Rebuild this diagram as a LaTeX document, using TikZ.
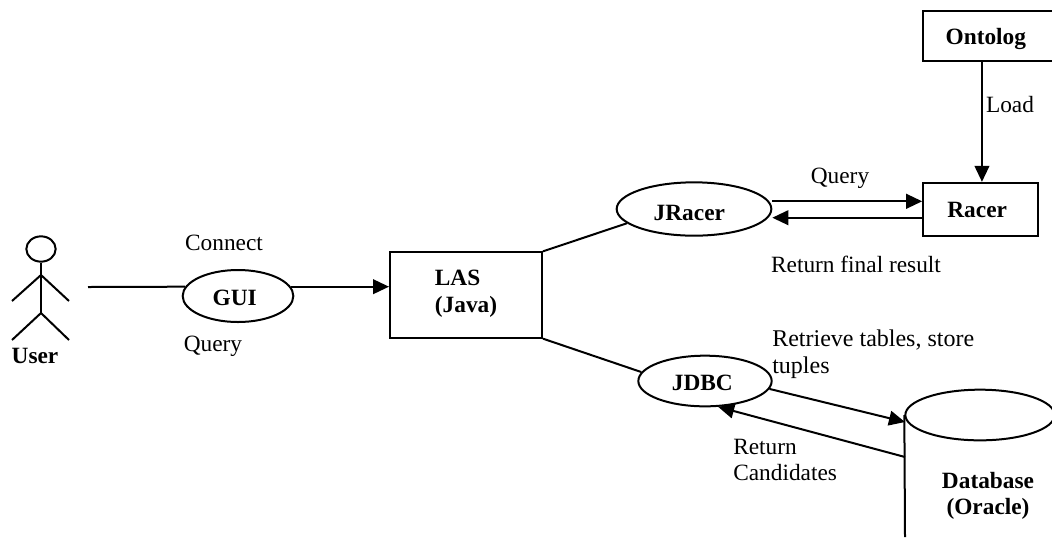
\documentclass[tikz,border=0pt]{standalone}
\usepackage{fontspec}
\setmainfont{Liberation Serif}
\usetikzlibrary{arrows.meta,shapes.geometric}
\newcommand{\txtsize}{\fontsize{17.5}{20}\selectfont}
\tikzset{
	base/.style={line width=1.5pt, color=black},
	oval/.style={base, draw, ellipse, inner sep=0pt, font=\txtsize\bfseries},
	block/.style={base, draw, rectangle, inner sep=0pt, font=\txtsize\bfseries, align=left},
	arr/.style={base, -{Triangle[length=12pt,width=11pt]}},
	lbl/.style={inner sep=0pt, align=left, font=\txtsize},
	strong/.style={inner sep=0pt, align=center, font=\txtsize\bfseries}
}

\begin{document}
\begin{tikzpicture}[x=0.75pt, y=-0.75pt]
		%%%%% START %%%%%
		\useasboundingbox (0, 0) rectangle (1052, 537);
		
		% user
		\node[base, draw, ellipse, minimum width=22pt, minimum height=19pt, inner sep=0pt] (head) at (41, 249) {};
		\coordinate (shoulder) at (41, 275);
		\coordinate (hip) at (41, 313);
		\draw[base] (head.south) -- (hip);
		\draw[base] (12, 301) -- (shoulder) -- (69, 301);
		\draw[base] (12, 340) -- (hip) -- (69, 340);
		\node[strong] (user) at (35, 356) {User};
		\coordinate (userend) at (88, 287);
		
		% nodes
		\node[oval, minimum width=83pt, minimum height=39pt, text height=15pt] (gui) at (238, 296) {\hspace*{-5pt}GUI};
		\node[block, minimum width=114pt, minimum height=64pt, text depth=6pt] (las) at (466, 295) {LAS\\(Java)};
		\node[oval, minimum width=116pt, minimum height=40pt, text height=18pt] (jracer) at (694, 209) {\hspace*{-7pt}JRacer};
		\node[oval, minimum width=100pt, minimum height=38pt, text height=15pt] (jdbc) at (705, 381) {\hspace*{-4pt}JDBC};
		\node[block, minimum width=98.25pt, minimum height=38pt, text height=16pt] (ontolog) at (988.5, 36) {\hspace*{-4pt}Ontolog};
		\node[block, minimum width=86pt, minimum height=40pt] (racer) at (980.5, 209.5) {\hspace*{-5pt}Racer};
		\node[oval, minimum width=112pt, minimum height=38pt] (db) at (980, 415) {};
		\coordinate (dbbottom) at (905, 537);
		\coordinate (dbin) at (905, 422);
		\coordinate (dbout) at (905, 457);
		
		% connectors
		\draw[base] (userend) -- (gui.170);
		\draw[arr] (gui.10) -- (gui.10 -| las.west);
		\draw[base] (las.north east) -- (jracer.192);
		\draw[base] (las.south east) -- (jdbc.172);
		\draw[arr] (racer.172 -| jracer.east) -- (racer.172);
		\draw[arr] (racer.188) -- (racer.188 -| jracer.east);
		\draw[arr] (racer.87 |- ontolog.south) -- (racer.87);
		\draw[arr] (jdbc.-7) -- (dbin);
		\draw[arr] (dbout) -- (jdbc.-63);
		\draw[base] (db.west) -- (dbbottom);
		
		% labels
		\node[lbl] (connectlbl) at (224, 243) {Connect};
		\node[lbl] (querylbl) at (213, 346) {Query};
		\node[lbl] (racerquery) at (840, 178) {Query};
		\node[lbl] (finallbl) at (856, 264) {Return final result};
		\node[lbl] (loadlbl) at (1010, 105) {Load};
		\node[lbl, anchor=west, font=\fontsize{18}{20}\selectfont] (retrievelbl) at (772, 354) {Retrieve tables, store\\tuples};
		\node[lbl, anchor=west] (candlbl) at (733, 460) {Return\\Candidates};
		\node[strong] (dblbl) at (988, 496) {Database\\(Oracle)};
		
		%%%%% END %%%%%
	\end{tikzpicture}
\end{document}
